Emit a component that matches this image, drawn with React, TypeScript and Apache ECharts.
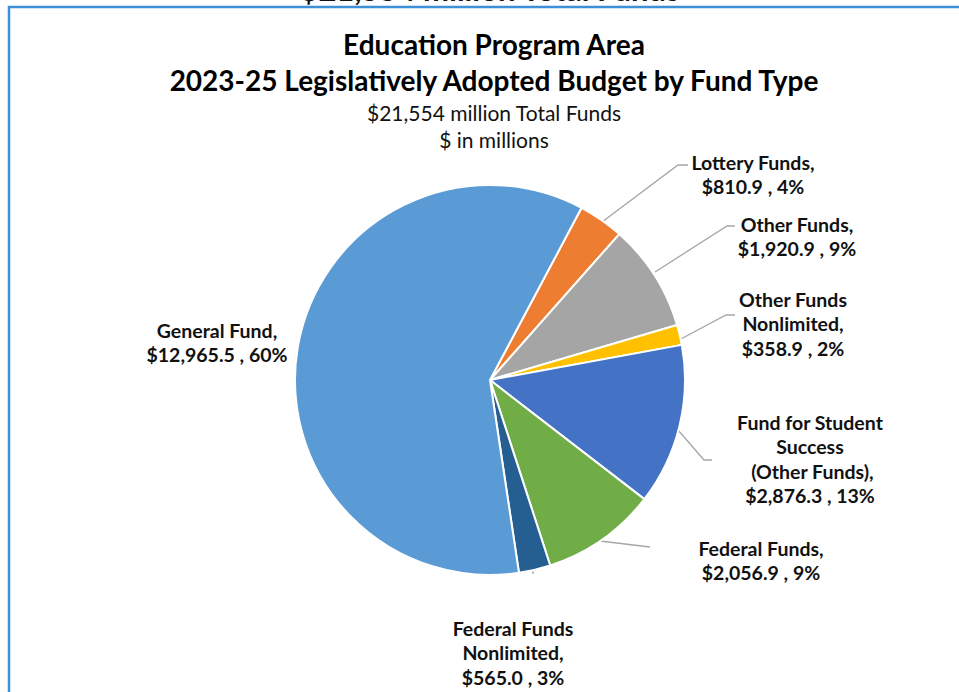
import React, { useEffect, useRef } from "react";
import * as echarts from "echarts";

const categories = [
  "Lottery Funds",
  "Other Funds",
  "Other Funds Nonlimited",
  "Fund for Student Success (Other Funds)",
  "Federal Funds",
  "Federal Funds Nonlimited",
  "General Fund",
];
const values = [810.9, 1920.9, 358.9, 2876.3, 2056.9, 565.0, 12965.5];
const percents = ["4%", "9%", "2%", "13%", "9%", "3%", "60%"];
const labelTexts = [
  "Lottery Funds,\n$810.9 , 4%",
  "Other Funds,\n$1,920.9 , 9%",
  "Other Funds\nNonlimited,\n$358.9 , 2%",
  "Fund for Student\nSuccess\n (Other Funds),\n$2,876.3 , 13%",
  "Federal Funds,\n$2,056.9 , 9%",
  "Federal Funds\nNonlimited,\n$565.0 , 3%",
  "General Fund,\n$12,965.5 , 60%",
];
const colors = ["#ED7D31", "#A5A5A5", "#FFC000", "#4472C4", "#70AD47", "#255E91", "#5B9BD5"];

// label layout (center x, top y of text block, line points)
const labelPos = [
  { x: 753, y: 150, line: [[602, 222], [678, 165], [688, 165]] },
  { x: 797, y: 212, line: [[655, 272], [727, 226], [735, 226]] },
  { x: 793, y: 287, line: [[679, 340], [726, 315], [735, 315]] },
  { x: 810, y: 410, line: [[678, 430], [704, 460], [712, 460]] },
  { x: 761, y: 536, line: [[600, 541], [650, 547]] },
  { x: 513, y: 616, line: [[533, 571], [533, 574]] },
  { x: 217, y: 318, line: null },
];

export default function App() {
  const ref = useRef<HTMLDivElement>(null);
  useEffect(() => {
    if (!ref.current) return;
    const chart = echarts.init(ref.current, null, { renderer: "svg" });
    const font = "Lato, 'Open Sans', sans-serif";
    chart.setOption({
      animation: false,
      backgroundColor: "#ffffff",
      graphic: [
        {
          type: "rect",
          shape: { x: 9, y: 7, width: 1000, height: 800 },
          style: { fill: "none", stroke: "#3D8FD8", lineWidth: 2.5 },
          z: 10,
        },
        {
          type: "text",
          x: 490,
          y: -27,
          style: {
            text: "$21,554 million Total Funds",
            font: `bold 31px ${font}`,
            fill: "#111",
            align: "center",
            verticalAlign: "top",
          },
          z: 1,
        },
        {
          type: "rect",
          shape: { x: 0, y: 5, width: 959, height: 5 },
          style: { fill: "#ffffff" },
          z: 5,
        },
      ],
      title: [
        {
          text: "Education Program Area\n2023-25 Legislatively Adopted Budget by Fund Type",
          left: 489,
          textAlign: "center",
          top: 21,
          textStyle: {
            fontFamily: font,
            fontWeight: "bold",
            fontSize: 28,
            lineHeight: 36,
            color: "#000",
          },
        },
        {
          text: "$21,554 million Total Funds\n$ in millions",
          left: 489,
          textAlign: "center",
          top: 94,
          textStyle: {
            fontFamily: font,
            fontWeight: "normal",
            fontSize: 21,
            lineHeight: 27,
            color: "#111",
          },
        },
      ],
      series: [
        {
          type: "pie",
          center: [490, 380],
          radius: [0, 195],
          startAngle: 62,
          clockwise: true,
          avoidLabelOverlap: false,
          itemStyle: { borderColor: "#ffffff", borderWidth: 2 },
          label: {
            show: true,
            formatter: (p: any) => labelTexts[p.dataIndex],
            fontFamily: font,
            fontWeight: "bold",
            fontSize: 19.5,
            lineHeight: 24.5,
            color: "#111",
            align: "center",
          },
          labelLine: {
            show: true,
            lineStyle: { color: "#A6A6A6", width: 1.3 },
          },
          labelLayout: (params: any) => {
            const p = labelPos[params.dataIndex];
            const res: any = {
              x: p.x,
              y: p.y,
              align: "center",
              verticalAlign: "top",
            };
            if (p.line) res.labelLinePoints = p.line;
            return res;
          },
          data: categories.map((c, i) => ({
            name: c,
            value: values[i],
            itemStyle: { color: colors[i] },
            labelLine: { show: labelPos[i].line !== null },
          })),
        },
      ],
    });
    return () => chart.dispose();
  }, []);
  return (
    <div
      ref={ref}
      style={{ position: "absolute", left: 0, top: 0, width: 959, height: 692 }}
    />
  );
}
